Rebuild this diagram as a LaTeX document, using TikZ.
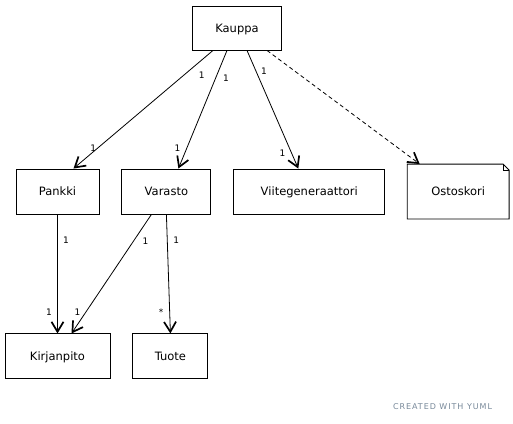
\documentclass[tikz,border=0pt]{standalone}
\usepackage{fontspec}
\setmainfont{DejaVu Sans}
\newfontfamily\footfont[LetterSpace=12]{DejaVu Sans}
\usepackage{xcolor}
\usepackage{tikz}
\usetikzlibrary{arrows.meta, positioning, calc}
\definecolor{yumlgrey}{RGB}{119, 136, 153}

\begin{document}
\begin{tikzpicture}[
    node distance=22pt,
    cls/.style={rectangle, draw=black, line width=0.9pt, minimum width=#1, minimum height=45pt, inner sep=0pt, text height=8.4pt, text depth=0pt, align=center, font=\fontsize{11.5}{13}\selectfont},
    assoc/.style={line width=0.8pt, -{Straight Barb[length=10pt, width=12pt, line width=1.7pt]}},
    lbl/.style={font=\fontsize{9}{10}\selectfont, inner sep=0pt}
]
\useasboundingbox (0pt,0pt) rectangle (513pt,-423pt);

% Classes
\node[cls=89pt, minimum height=44pt] (kauppa) at (237pt,-28pt) {Kauppa};
\node[cls=83pt] (pankki) at (57.5pt,-191.5pt) {Pankki};
\node[cls=89pt, right=of pankki] (varasto) {Varasto};
\node[cls=151pt, right=of varasto] (viite) {Viitegeneraattori};
\node[cls=101pt, minimum height=54pt, draw=none, right=of viite] (ostoskori) {Ostoskori};
\node[cls=105pt, below=119pt of pankki] (kirjanpito) {Kirjanpito};
\node[cls=75pt, right=of kirjanpito] (tuote) {Tuote};

% Note corner of Ostoskori
\draw[line width=0.9pt] (ostoskori.south west) -- (ostoskori.north west) -- ([xshift=-6pt]ostoskori.north east)
    -- ([yshift=-6pt]ostoskori.north east) -- (ostoskori.south east) -- cycle;
\draw[line width=0.6pt] ([xshift=-6pt]ostoskori.north east) |- ([yshift=-6pt]ostoskori.north east);

% Associations
\draw[assoc] ([xshift=-24pt]kauppa.south) -- ([xshift=16pt]pankki.north)
    node[lbl, pos=0.21, xshift=18pt] {1}
    node[lbl, pos=0.83, xshift=-4pt] {1};
\draw[assoc] ([xshift=-10pt]kauppa.south) -- ([xshift=12pt]varasto.north)
    node[lbl, pos=0.235, xshift=10.5pt] {1}
    node[lbl, pos=0.824, xshift=-9.5pt] {1};
\draw[assoc] ([xshift=10pt]kauppa.south) -- ([xshift=-11pt]viite.north)
    node[lbl, pos=0.176, xshift=8pt] {1}
    node[lbl, pos=0.866, xshift=-9pt] {1};
\draw[assoc, dash pattern=on 4pt off 3pt] ([xshift=30pt]kauppa.south) -- ([xshift=-38.5pt]ostoskori.north);
\draw[assoc] (pankki.south) -- (kirjanpito.north)
    node[lbl, pos=0.22, xshift=8.5pt] {1}
    node[lbl, pos=0.82, xshift=-8.5pt] {1};
\draw[assoc] ([xshift=-15pt]varasto.south) -- ([xshift=14pt]kirjanpito.north)
    node[lbl, pos=0.227, xshift=12.3pt] {1}
    node[lbl, pos=0.82, xshift=-8.5pt] {1};
\draw[assoc] (varasto.south) -- (tuote.north)
    node[lbl, pos=0.22, xshift=9pt] {1}
    node[lbl, pos=0.82, xshift=-8.5pt] {*};

% Footer
\node[font=\footfont\fontsize{8}{9}\selectfont, text=yumlgrey, inner sep=0pt] (credit) at (442.5pt,-407pt) {CREATED WITH YUML};

\end{tikzpicture}
\end{document}
